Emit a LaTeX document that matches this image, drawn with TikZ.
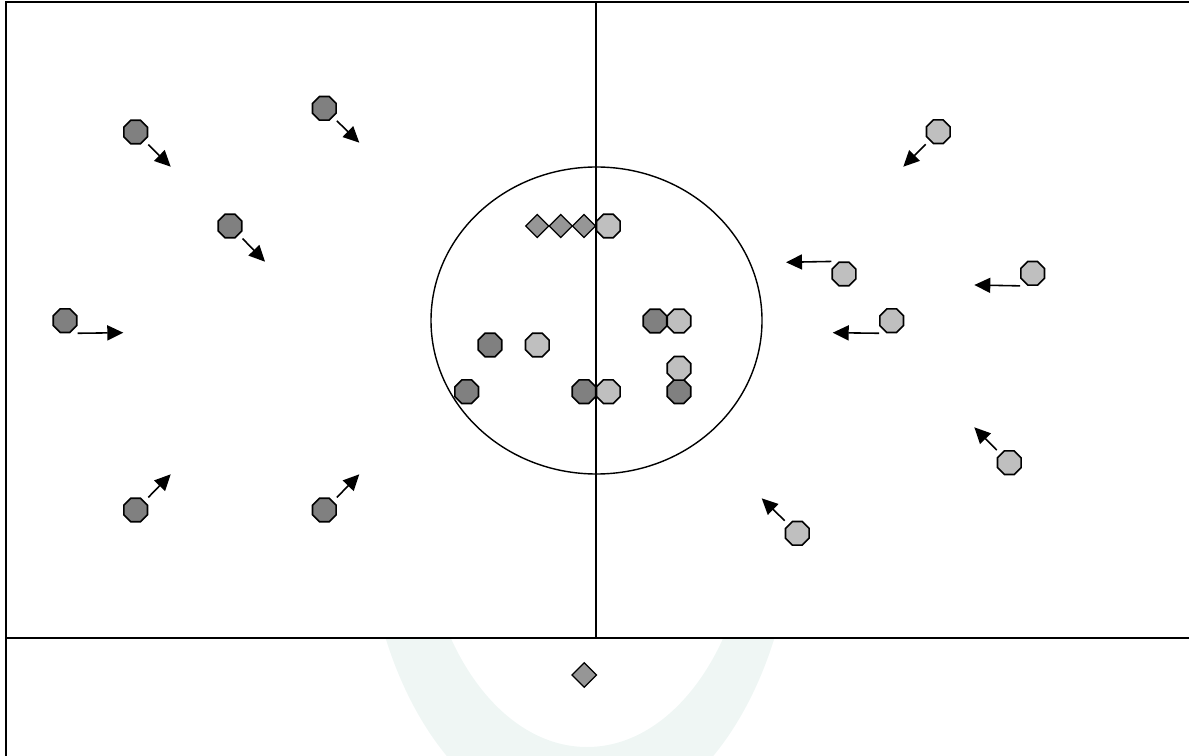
\documentclass[tikz,border=0pt]{standalone}
\usetikzlibrary{shapes.geometric,arrows.meta}
\definecolor{darkteam}{gray}{0.5}
\definecolor{lightteam}{gray}{0.75}
\definecolor{conefill}{gray}{0.59}
\definecolor{wmark}{RGB}{239,246,244}
\tikzset{
  darkp/.style={regular polygon, regular polygon sides=8, draw, line width=0.9pt,
    fill=darkteam, inner sep=0pt, minimum size=0.51cm},
  lightp/.style={darkp, fill=lightteam},
  cone/.style={diamond, draw, line width=0.7pt, fill=conefill, inner sep=0pt,
    minimum width=0.47cm, minimum height=0.47cm},
  run/.style={line width=0.9pt, -{Triangle[length=0.32cm,width=0.3cm]}},
}
\begin{document}
\begin{tikzpicture}[x=0.02cm, y=-0.02cm]
  \useasboundingbox (0,0) rectangle (1189,756);

  % faint watermark below the field
  \begin{scope}
    \clip (6,639) rectangle (1189,756);
    \fill[wmark, even odd rule] (580,497) ellipse [x radius=215, y radius=330]
      (587,497) ellipse [x radius=165, y radius=250];
  \end{scope}

  % field
  \draw[line width=1.3pt] (6,756) -- (6,2) -- (1189,2);
  \draw[line width=1.5pt] (6,638) -- (1189,638);
  \draw[line width=0.9pt] (596,2) -- (596,638);
  \draw[line width=0.8pt] (596.5,320.5) ellipse [x radius=165.5, y radius=153.5];

  % dark team running in
  \foreach \n/\x/\y/\tx/\ty in {1/135.7/132/170.7/166.7, 2/324.3/108.3/359.3/142.7,
      3/230/226/265/261.7, 4/65/320.7/123.3/332.7} {
    \node[darkp] (a\n) at (\x,\y) {};
    \coordinate (at\n) at (\tx,\ty);
    \draw[run] (a\n.east |- a\n.south) -- (at\n);
  }
  \foreach \n/\x/\y/\tx/\ty in {5/135.7/510/170.7/474.3, 6/324.3/510/359.3/474.3} {
    \node[darkp] (a\n) at (\x,\y) {};
    \coordinate (at\n) at (\tx,\ty);
    \draw[run] (a\n.east |- a\n.north) -- (at\n);
  }

  % light team running in
  \foreach \n/\x/\y/\tx/\ty in {1/938.3/131.7/903.3/166.7, 2/1032.7/273.3/974.3/285,
      3/891.7/320.7/832.7/332.7} {
    \node[lightp] (b\n) at (\x,\y) {};
    \coordinate (bt\n) at (\tx,\ty);
    \draw[run] (b\n.west |- b\n.south) -- (bt\n);
  }
  \foreach \n/\x/\y/\tx/\ty in {4/844/274/786/262.3, 5/1009.3/462.7/974.3/427.3,
      6/797.3/533.3/761.7/498.3} {
    \node[lightp] (b\n) at (\x,\y) {};
    \coordinate (bt\n) at (\tx,\ty);
    \draw[run] (b\n.west |- b\n.north) -- (bt\n);
  }

  % players inside the circle
  \foreach \n/\x/\y in {1/490/345, 2/466.7/391.7, 3/655/321, 4/584/391.7, 5/679/391.7}
    \node[darkp] (d\n) at (\x,\y) {};
  \foreach \n/\x/\y in {1/608.3/226, 2/537.3/345, 3/679/321, 4/608.3/391.7, 5/679/368.3}
    \node[lightp] (l\n) at (\x,\y) {};

  % cones
  \foreach \n/\x in {1/537.3, 2/560.7, 3/584}
    \node[cone] (c\n) at (\x,226) {};
  \node[cone, minimum width=0.5cm, minimum height=0.5cm] (c4) at (584.3,675) {};
\end{tikzpicture}
\end{document}
